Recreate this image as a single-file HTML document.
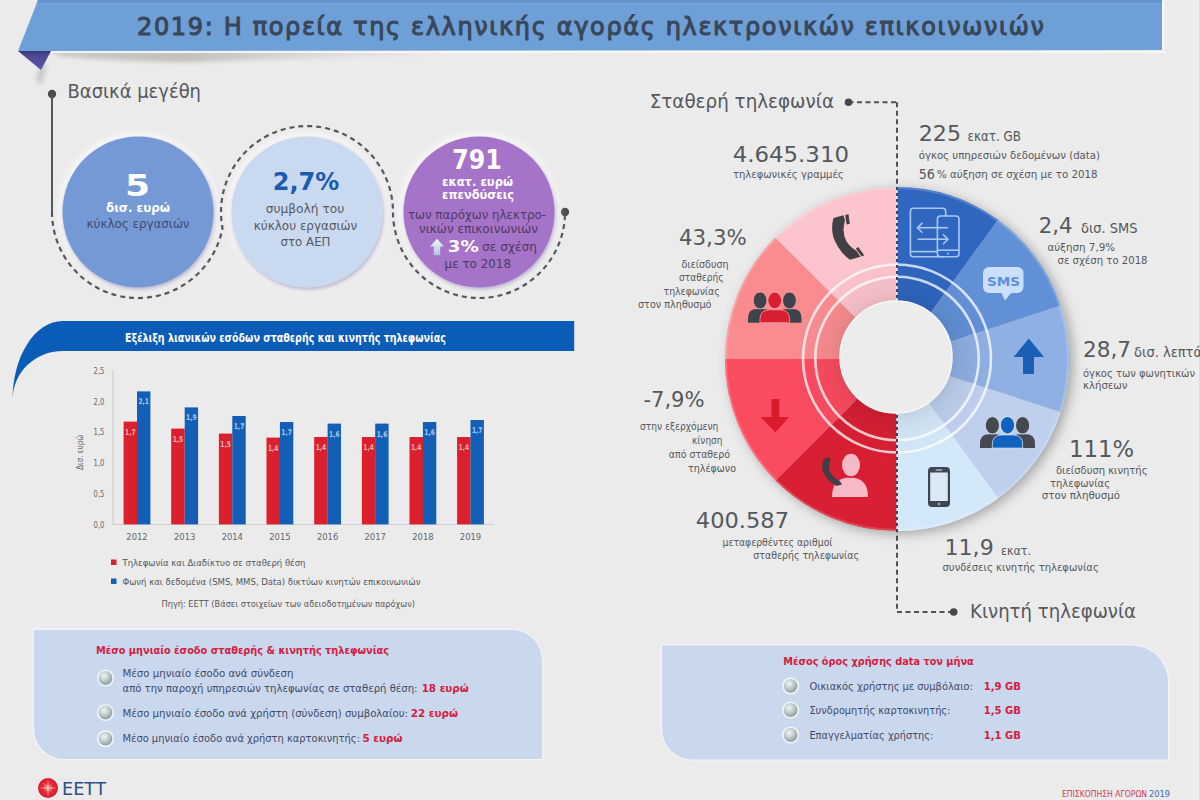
<!DOCTYPE html>
<html lang="el">
<head>
<meta charset="utf-8">
<title>2019: Η πορεία της ελληνικής αγοράς ηλεκτρονικών επικοινωνιών</title>
<style>
html,body{margin:0;padding:0;background:#ebebeb;}
body{width:1200px;height:800px;overflow:hidden;position:relative;}
svg{position:absolute;left:0;top:0;display:block;}
text{font-family:"DejaVu Sans","Liberation Sans",sans-serif;}
.g{fill:#56585c;}
</style>
</head>
<body>
<svg width="1200" height="800" viewBox="0 0 1200 800">
<defs>
  <filter id="glow" x="-20%" y="-20%" width="140%" height="140%"><feGaussianBlur stdDeviation="3"/></filter>
  <filter id="soft" x="-10%" y="-10%" width="120%" height="120%"><feGaussianBlur stdDeviation="0.7"/></filter>
  <filter id="sh" x="-20%" y="-20%" width="140%" height="140%">
    <feGaussianBlur in="SourceAlpha" stdDeviation="2.2"/>
    <feOffset dx="1.2" dy="1.8" result="b"/>
    <feFlood flood-color="#5a4f86" flood-opacity="0.45"/>
    <feComposite in2="b" operator="in"/>
    <feMerge><feMergeNode/><feMergeNode in="SourceGraphic"/></feMerge>
  </filter>
  <filter id="dsh" x="-20%" y="-20%" width="140%" height="140%">
    <feGaussianBlur in="SourceAlpha" stdDeviation="6"/>
    <feOffset dx="4" dy="3" result="b"/>
    <feFlood flood-color="#000" flood-opacity="0.3"/>
    <feComposite in2="b" operator="in"/>
    <feMerge><feMergeNode/><feMergeNode in="SourceGraphic"/></feMerge>
  </filter>
  <linearGradient id="bsh" x1="0" y1="0" x2="0" y2="1">
    <stop offset="0" stop-color="#b9b9b9"/>
    <stop offset="1" stop-color="#ebebeb" stop-opacity="0"/>
  </linearGradient>
  <radialGradient id="bul" cx="0.4" cy="0.35" r="0.6">
    <stop offset="0" stop-color="#f2f6f5"/>
    <stop offset="0.55" stop-color="#c0cfce"/>
    <stop offset="1" stop-color="#92a6a4"/>
  </radialGradient>
  <radialGradient id="logo" cx="0.5" cy="0.5" r="0.5">
    <stop offset="0" stop-color="#f7a5a5"/>
    <stop offset="0.45" stop-color="#e5303a"/>
    <stop offset="1" stop-color="#d8172a"/>
  </radialGradient>
  <linearGradient id="bsh2" x1="0" y1="0" x2="1" y2="0">
    <stop offset="0" stop-color="#b5b1ad" stop-opacity="0.6"/>
    <stop offset="0.35" stop-color="#b8b4b0" stop-opacity="0.8"/>
    <stop offset="1" stop-color="#c8c6c4" stop-opacity="0"/>
  </linearGradient>
  <filter id="b2" x="-20%" y="-50%" width="140%" height="200%"><feGaussianBlur stdDeviation="2"/></filter>
  <linearGradient id="fold" x1="0" y1="0" x2="0" y2="1">
    <stop offset="0" stop-color="#33387a"/>
    <stop offset="0.25" stop-color="#4a4b93"/>
    <stop offset="1" stop-color="#5856a6"/>
  </linearGradient>
  <radialGradient id="innersh" cx="0.5" cy="0.5" r="0.5">
    <stop offset="0.5" stop-color="#000" stop-opacity="0.1"/>
    <stop offset="0.62" stop-color="#000" stop-opacity="0.05"/>
    <stop offset="0.8" stop-color="#000" stop-opacity="0.015"/>
    <stop offset="1" stop-color="#000" stop-opacity="0"/>
  </radialGradient>
  <linearGradient id="arr" x1="0" y1="0" x2="0" y2="1">
    <stop offset="0" stop-color="#f4f6fb"/>
    <stop offset="1" stop-color="#b4c2e0"/>
  </linearGradient>
</defs>

<rect x="1192" y="0" width="7" height="800" fill="#eeeeee"/>
<rect x="1199" y="0" width="1" height="800" fill="#dedede"/>
<!-- ============ HEADER BANNER ============ -->
<path d="M48,50 L440,50 L440,56 Q300,58 200,62 Q120,62 60,56 Z" fill="url(#bsh2)" filter="url(#b2)"/>
<path d="M40,66 L47,64 L42,84 L36,80 Z" fill="#b8b8bc" opacity="0.7" filter="url(#b2)"/>
<polygon points="38,0 1162,0 1162,50 18,51" fill="#6e9fd7"/>
<polygon points="38,0 1162,0 1162,3 36.8,3" fill="#6593cc"/>
<line x1="36.5" y1="3.9" x2="1162" y2="3.9" stroke="#7eaae0" stroke-width="0.8"/>
<polyline points="48,52 1163.5,52 1163.5,0" fill="none" stroke="#f7fafd" stroke-opacity="0.85" stroke-width="2"/>
<polygon points="18,51 51,51 41,70" fill="url(#fold)"/>
<text x="137" y="34.5" font-size="24" stroke="#394759" stroke-width="1.05" fill="#394759" textLength="907" lengthAdjust="spacing">2019: Η πορεία της ελληνικής αγοράς ηλεκτρονικών επικοινωνιών</text>


<!-- ============ BASIKA MEGETHI ============ -->
<text x="67.5" y="97.5" font-size="19.5" fill="#55585d" textLength="133.5" lengthAdjust="spacingAndGlyphs">Βασικά μεγέθη</text>
<circle cx="52" cy="94" r="4.2" fill="#4a4c50"/>
<line x1="52" y1="94" x2="52" y2="212" stroke="#55575b" stroke-width="2"/>
<circle cx="565" cy="212" r="4.2" fill="#4a4c50"/>

<g filter="url(#glow)"><circle cx="138" cy="212" r="79" fill="#fbfbfd"/><circle cx="307" cy="212" r="79" fill="#fbfbfd"/><circle cx="479" cy="212" r="79" fill="#fbfbfd"/></g>
<path d="M52,212 A86,86 0 0 0 222.5,228.05 A86,86 0 1 1 393,212 A86,86 0 0 0 479,298 A86,86 0 0 0 565,212" fill="none" stroke="#55575b" stroke-width="2.2" stroke-dasharray="5,4"/>
<circle cx="138" cy="212" r="75.5" fill="#7599d5" filter="url(#sh)"/>
<circle cx="307" cy="212" r="75.5" fill="#c9d9f0" filter="url(#sh)"/>
<circle cx="479" cy="212" r="75.5" fill="#a573c8" filter="url(#sh)"/>

<text transform="translate(137.4,196.3) scale(1.22,1)" x="0" y="0" font-size="29.5" font-weight="bold" fill="#fff" text-anchor="middle">5</text>
<text x="138" y="211.5" font-size="12.5" font-weight="bold" fill="#fff" text-anchor="middle" textLength="64" lengthAdjust="spacingAndGlyphs">δισ. ευρώ</text>
<text x="138" y="228" font-size="12" fill="#3c4d72" text-anchor="middle" textLength="103" lengthAdjust="spacingAndGlyphs">κύκλος εργασιών</text>

<text x="306" y="189.5" font-size="25" font-weight="bold" fill="#1c5cae" text-anchor="middle" textLength="66.5" lengthAdjust="spacingAndGlyphs">2,7%</text>
<text x="305" y="213" font-size="12.5" fill="#575a60" text-anchor="middle" textLength="78.5" lengthAdjust="spacingAndGlyphs">συμβολή του</text>
<text x="305.5" y="229.5" font-size="12.5" fill="#575a60" text-anchor="middle" textLength="103.5" lengthAdjust="spacingAndGlyphs">κύκλου εργασιών</text>
<text x="305.5" y="246" font-size="12.5" fill="#575a60" text-anchor="middle" textLength="50" lengthAdjust="spacingAndGlyphs">στο ΑΕΠ</text>

<text x="477" y="169.3" font-size="26" font-weight="bold" fill="#fff" text-anchor="middle" textLength="49.6" lengthAdjust="spacingAndGlyphs">791</text>
<text x="477.5" y="185.5" font-size="12.5" font-weight="bold" fill="#fff" text-anchor="middle" textLength="71" lengthAdjust="spacingAndGlyphs">εκατ. ευρώ</text>
<text x="478" y="199" font-size="12.5" font-weight="bold" fill="#fff" text-anchor="middle" textLength="72" lengthAdjust="spacingAndGlyphs">επενδύσεις</text>
<text x="477" y="219" font-size="11.5" fill="#4b3c63" text-anchor="middle" textLength="138" lengthAdjust="spacingAndGlyphs">των παρόχων ηλεκτρο-</text>
<text x="478.5" y="232.8" font-size="11.5" fill="#4b3c63" text-anchor="middle" textLength="119" lengthAdjust="spacingAndGlyphs">νικών επικοινωνιών</text>
<path d="M437,238.8 L444,246.5 L440.2,246.5 L440.2,255.2 L433.8,255.2 L433.8,246.5 L430,246.5 Z" fill="url(#arr)"/>
<text x="447.7" y="252" font-size="16.5" font-weight="bold" fill="#fff" textLength="31" lengthAdjust="spacingAndGlyphs">3%</text>
<text x="482" y="250.5" font-size="11.5" fill="#4b3c63" textLength="55" lengthAdjust="spacingAndGlyphs">σε σχέση</text>
<text x="477.8" y="267.7" font-size="11.5" fill="#4b3c63" text-anchor="middle" textLength="66.5" lengthAdjust="spacingAndGlyphs">με το 2018</text>

<!-- ============ CHART ============ -->
<path d="M574.2,321 L62.5,321 A50,79 0 0 0 12.5,400 A50,49 0 0 1 62.5,351 L574.2,351 Z" fill="#0b5cb6"/>
<text x="125" y="342" font-size="12" font-weight="bold" fill="#ffffff" textLength="321" lengthAdjust="spacingAndGlyphs">Εξέλιξη λιανικών εσόδων σταθερής και κινητής τηλεφωνίας</text>
<line x1="113" y1="370" x2="113" y2="524.5" stroke="#cfcfcf" stroke-width="1.2"/>
<line x1="113" y1="524.5" x2="494" y2="524.5" stroke="#cfcfcf" stroke-width="1.2"/>
<text x="104.4" y="374.3" font-size="8.6" fill="#66686c" text-anchor="end" textLength="10.8" lengthAdjust="spacingAndGlyphs">2,5</text><text x="104.4" y="404.6" font-size="8.6" fill="#66686c" text-anchor="end" textLength="10.8" lengthAdjust="spacingAndGlyphs">2,0</text><text x="104.4" y="435.3" font-size="8.6" fill="#66686c" text-anchor="end" textLength="10.8" lengthAdjust="spacingAndGlyphs">1,5</text><text x="104.4" y="466.3" font-size="8.6" fill="#66686c" text-anchor="end" textLength="10.8" lengthAdjust="spacingAndGlyphs">1,0</text><text x="104.4" y="496.90000000000003" font-size="8.6" fill="#66686c" text-anchor="end" textLength="10.8" lengthAdjust="spacingAndGlyphs">0,5</text><text x="104.4" y="527.6999999999999" font-size="8.6" fill="#66686c" text-anchor="end" textLength="10.8" lengthAdjust="spacingAndGlyphs">0,0</text>
<text transform="translate(83,452.3) rotate(-90)" font-size="8.3" fill="#66686c" text-anchor="middle" textLength="35.5" lengthAdjust="spacingAndGlyphs">Δισ. ευρώ</text>
<rect x="123.6" y="421.6" width="13.5" height="102.8" fill="#dc1f2d"/><rect x="137.0" y="391.4" width="13.4" height="133.0" fill="#135fb6"/><text x="130.3" y="434.6" font-size="7.8" font-weight="bold" fill="#f1b3b8" text-anchor="middle" textLength="10.5" lengthAdjust="spacingAndGlyphs">1,7</text><text x="143.7" y="404.4" font-size="7.8" font-weight="bold" fill="#aecaef" text-anchor="middle" textLength="10.5" lengthAdjust="spacingAndGlyphs">2,1</text><text x="137.0" y="539.5" font-size="8.4" fill="#626468" text-anchor="middle">2012</text><rect x="171.2" y="428.6" width="13.5" height="95.8" fill="#dc1f2d"/><rect x="184.7" y="407.4" width="13.4" height="117.0" fill="#135fb6"/><text x="177.9" y="441.6" font-size="7.8" font-weight="bold" fill="#f1b3b8" text-anchor="middle" textLength="10.5" lengthAdjust="spacingAndGlyphs">1,5</text><text x="191.3" y="420.4" font-size="7.8" font-weight="bold" fill="#aecaef" text-anchor="middle" textLength="10.5" lengthAdjust="spacingAndGlyphs">1,9</text><text x="184.7" y="539.5" font-size="8.4" fill="#626468" text-anchor="middle">2013</text><rect x="218.9" y="433.6" width="13.5" height="90.8" fill="#dc1f2d"/><rect x="232.3" y="416" width="13.4" height="108.4" fill="#135fb6"/><text x="225.6" y="446.6" font-size="7.8" font-weight="bold" fill="#f1b3b8" text-anchor="middle" textLength="10.5" lengthAdjust="spacingAndGlyphs">1,5</text><text x="239.0" y="429.0" font-size="7.8" font-weight="bold" fill="#aecaef" text-anchor="middle" textLength="10.5" lengthAdjust="spacingAndGlyphs">1,7</text><text x="232.3" y="539.5" font-size="8.4" fill="#626468" text-anchor="middle">2014</text><rect x="266.5" y="437.6" width="13.5" height="86.8" fill="#dc1f2d"/><rect x="279.9" y="422" width="13.4" height="102.4" fill="#135fb6"/><text x="273.2" y="450.6" font-size="7.8" font-weight="bold" fill="#f1b3b8" text-anchor="middle" textLength="10.5" lengthAdjust="spacingAndGlyphs">1,4</text><text x="286.6" y="435.0" font-size="7.8" font-weight="bold" fill="#aecaef" text-anchor="middle" textLength="10.5" lengthAdjust="spacingAndGlyphs">1,7</text><text x="279.9" y="539.5" font-size="8.4" fill="#626468" text-anchor="middle">2015</text><rect x="314.2" y="437" width="13.5" height="87.4" fill="#dc1f2d"/><rect x="327.6" y="423.6" width="13.4" height="100.8" fill="#135fb6"/><text x="320.9" y="450.0" font-size="7.8" font-weight="bold" fill="#f1b3b8" text-anchor="middle" textLength="10.5" lengthAdjust="spacingAndGlyphs">1,4</text><text x="334.3" y="436.6" font-size="7.8" font-weight="bold" fill="#aecaef" text-anchor="middle" textLength="10.5" lengthAdjust="spacingAndGlyphs">1,6</text><text x="327.6" y="539.5" font-size="8.4" fill="#626468" text-anchor="middle">2016</text><rect x="361.9" y="437" width="13.5" height="87.4" fill="#dc1f2d"/><rect x="375.2" y="423.6" width="13.4" height="100.8" fill="#135fb6"/><text x="368.6" y="450.0" font-size="7.8" font-weight="bold" fill="#f1b3b8" text-anchor="middle" textLength="10.5" lengthAdjust="spacingAndGlyphs">1,4</text><text x="382.0" y="436.6" font-size="7.8" font-weight="bold" fill="#aecaef" text-anchor="middle" textLength="10.5" lengthAdjust="spacingAndGlyphs">1,6</text><text x="375.2" y="539.5" font-size="8.4" fill="#626468" text-anchor="middle">2017</text><rect x="409.5" y="437" width="13.5" height="87.4" fill="#dc1f2d"/><rect x="422.9" y="422" width="13.4" height="102.4" fill="#135fb6"/><text x="416.2" y="450.0" font-size="7.8" font-weight="bold" fill="#f1b3b8" text-anchor="middle" textLength="10.5" lengthAdjust="spacingAndGlyphs">1,4</text><text x="429.6" y="435.0" font-size="7.8" font-weight="bold" fill="#aecaef" text-anchor="middle" textLength="10.5" lengthAdjust="spacingAndGlyphs">1,6</text><text x="422.9" y="539.5" font-size="8.4" fill="#626468" text-anchor="middle">2018</text><rect x="457.1" y="437" width="13.5" height="87.4" fill="#dc1f2d"/><rect x="470.5" y="420" width="13.4" height="104.4" fill="#135fb6"/><text x="463.8" y="450.0" font-size="7.8" font-weight="bold" fill="#f1b3b8" text-anchor="middle" textLength="10.5" lengthAdjust="spacingAndGlyphs">1,4</text><text x="477.2" y="433.0" font-size="7.8" font-weight="bold" fill="#aecaef" text-anchor="middle" textLength="10.5" lengthAdjust="spacingAndGlyphs">1,7</text><text x="470.5" y="539.5" font-size="8.4" fill="#626468" text-anchor="middle">2019</text>
<rect x="111" y="559.5" width="5.5" height="5.5" fill="#dc1f2d"/>
<text x="122.5" y="565.5" font-size="9.5" fill="#55585c" textLength="183" lengthAdjust="spacingAndGlyphs">Τηλεφωνία και Διαδίκτυο σε σταθερή θέση</text>
<rect x="111" y="578.5" width="5.5" height="5.5" fill="#135fb6"/>
<text x="122.5" y="584.5" font-size="9.5" fill="#55585c" textLength="298" lengthAdjust="spacingAndGlyphs">Φωνή και δεδομένα (SMS, MMS, Data) δικτύων κινητών επικοινωνιών</text>
<text x="161.5" y="607" font-size="9.3" fill="#55585c" textLength="253.5" lengthAdjust="spacingAndGlyphs">Πηγή: ΕΕΤΤ (Βάσει στοιχείων των αδειοδοτημένων παρόχων)</text>

<!-- ============ BOTTOM BOXES ============ -->
<path d="M34,630 L512,630 A30,30 0 0 1 542,660 L542,759 L64,759 A30,30 0 0 1 34,729 Z" fill="#cad8ee" stroke="#f2f4f8" stroke-width="2.5" paint-order="stroke"/>
<text x="96" y="654" font-size="11" font-weight="bold" fill="#d4203c" textLength="293" lengthAdjust="spacingAndGlyphs">Μέσο μηνιαίο έσοδο σταθερής &amp; κινητής τηλεφωνίας</text>
<circle cx="105.5" cy="678" r="8.6" fill="#f1f5f7" filter="url(#soft)"/><circle cx="105.5" cy="678" r="6.9" fill="url(#bul)"/>
<circle cx="105.5" cy="712.5" r="8.6" fill="#f1f5f7" filter="url(#soft)"/><circle cx="105.5" cy="712.5" r="6.9" fill="url(#bul)"/>
<circle cx="105.5" cy="738.7" r="8.6" fill="#f1f5f7" filter="url(#soft)"/><circle cx="105.5" cy="738.7" r="6.9" fill="url(#bul)"/>
<text x="122.5" y="677" font-size="11" fill="#3e4a66" textLength="171" lengthAdjust="spacingAndGlyphs">Μέσο μηνιαίο έσοδο ανά σύνδεση</text>
<text x="122.5" y="692" font-size="11" fill="#3e4a66" textLength="295" lengthAdjust="spacingAndGlyphs">από την παροχή υπηρεσιών τηλεφωνίας σε σταθερή θέση:</text>
<text x="421.7" y="692" font-size="11" font-weight="bold" fill="#d4203c" textLength="47" lengthAdjust="spacingAndGlyphs">18 ευρώ</text>
<text x="122.5" y="716.5" font-size="11" fill="#3e4a66" textLength="285.5" lengthAdjust="spacingAndGlyphs">Μέσο μηνιαίο έσοδο ανά χρήστη (σύνδεση) συμβολαίου:</text>
<text x="410.7" y="716.5" font-size="11" font-weight="bold" fill="#d4203c" textLength="47.3" lengthAdjust="spacingAndGlyphs">22 ευρώ</text>
<text x="122.5" y="742" font-size="11" fill="#3e4a66" textLength="237.5" lengthAdjust="spacingAndGlyphs">Μέσο μηνιαίο έσοδο ανά χρήστη καρτοκινητής:</text>
<text x="362.5" y="742" font-size="11" font-weight="bold" fill="#d4203c" textLength="40" lengthAdjust="spacingAndGlyphs">5 ευρώ</text>

<path d="M662,645.5 L1132,645.5 A36,36 0 0 1 1168,681.5 L1168,759.5 L692,759.5 A30,30 0 0 1 662,729.5 Z" fill="#cad8ee" stroke="#f2f4f8" stroke-width="2.5" paint-order="stroke"/>
<text x="783.3" y="665" font-size="11" font-weight="bold" fill="#d4203c" textLength="190.5" lengthAdjust="spacingAndGlyphs">Μέσος όρος χρήσης data τον μήνα</text>
<circle cx="790.6" cy="685.8" r="8.6" fill="#f1f5f7" filter="url(#soft)"/><circle cx="790.6" cy="685.8" r="6.9" fill="url(#bul)"/>
<circle cx="790.6" cy="710" r="8.6" fill="#f1f5f7" filter="url(#soft)"/><circle cx="790.6" cy="710" r="6.9" fill="url(#bul)"/>
<circle cx="790.6" cy="735" r="8.6" fill="#f1f5f7" filter="url(#soft)"/><circle cx="790.6" cy="735" r="6.9" fill="url(#bul)"/>
<text x="809.4" y="690" font-size="11" fill="#3e4a66" textLength="163.6" lengthAdjust="spacingAndGlyphs">Οικιακός χρήστης με συμβόλαιο:</text>
<text x="809.4" y="714.3" font-size="11" fill="#3e4a66" textLength="141" lengthAdjust="spacingAndGlyphs">Συνδρομητής καρτοκινητής:</text>
<text x="809.4" y="739.2" font-size="11" fill="#3e4a66" textLength="124" lengthAdjust="spacingAndGlyphs">Επαγγελματίας χρήστης:</text>
<text x="983.7" y="690" font-size="11" font-weight="bold" fill="#d4203c" textLength="37.3" lengthAdjust="spacingAndGlyphs">1,9 GB</text>
<text x="983.7" y="714.3" font-size="11" font-weight="bold" fill="#d4203c" textLength="37.3" lengthAdjust="spacingAndGlyphs">1,5 GB</text>
<text x="983.7" y="739.2" font-size="11" font-weight="bold" fill="#d4203c" textLength="37.3" lengthAdjust="spacingAndGlyphs">1,1 GB</text>

<!-- footer -->
<text x="1062" y="797" font-size="8" fill="#d63a4a" textLength="85" lengthAdjust="spacingAndGlyphs">ΕΠΙΣΚΟΠΗΣΗ ΑΓΟΡΩΝ</text>
<text x="1149" y="797" font-size="8" fill="#3a6fb5" textLength="21" lengthAdjust="spacingAndGlyphs">2019</text>
<circle cx="48" cy="788" r="10" fill="url(#logo)"/>
<path d="M48,779 L49,787 L57,788 L49,789 L48,797 L47,789 L39,788 L47,787 Z M42,782 L48.5,787.5 L54,782 L48.5,788.5 L54,794 L47.5,788.5 L42,794 L47.5,788.5 Z" fill="#f8c0c0" opacity="0.7"/>
<text x="62" y="795" font-size="17" fill="#28518c" textLength="44" lengthAdjust="spacingAndGlyphs">ΕΕΤΤ</text>

<!-- ============ DONUT ============ -->
<line x1="897" y1="102.3" x2="897" y2="612" stroke="#4f5155" stroke-width="2" stroke-dasharray="5,3.5"/>
<circle cx="897" cy="359" r="172" fill="#ccc" filter="url(#dsh)"/>
<g><path d="M897,359 L897.00,187.00 A172,172 0 0 1 998.10,219.85 Z" fill="#2f66bf"/><path d="M897,359 L998.10,219.85 A172,172 0 0 1 1060.58,305.85 Z" fill="#6290d7"/><path d="M897,359 L1060.58,305.85 A172,172 0 0 1 1060.58,412.15 Z" fill="#8fb0e2"/><path d="M897,359 L1060.58,412.15 A172,172 0 0 1 998.10,498.15 Z" fill="#bed0ee"/><path d="M897,359 L998.10,498.15 A172,172 0 0 1 897.00,531.00 Z" fill="#d3e8f9"/><path d="M897,359 L897.00,531.00 A172,172 0 0 1 775.38,480.62 Z" fill="#d81f33"/><path d="M897,359 L775.38,480.62 A172,172 0 0 1 725.00,359.00 Z" fill="#fa4b5f"/><path d="M897,359 L725.00,359.00 A172,172 0 0 1 775.38,237.38 Z" fill="#fa8c90"/><path d="M897,359 L775.38,237.38 A172,172 0 0 1 897.00,187.00 Z" fill="#fcc4cc"/></g>
<circle cx="897" cy="359" r="171" fill="none" stroke="#fff" stroke-opacity="0.18" stroke-width="2"/>
<circle cx="896.5" cy="358" r="105" fill="url(#innersh)"/>
<circle cx="897" cy="358.5" r="94" fill="none" stroke="#fff" stroke-opacity="0.75" stroke-width="2.6"/>
<circle cx="897" cy="358.5" r="81.7" fill="none" stroke="#fff" stroke-opacity="0.75" stroke-width="2.6"/>
<line x1="897" y1="187" x2="897" y2="531" stroke="#fff" stroke-opacity="0.6" stroke-width="2"/>
<line x1="897" y1="187" x2="897" y2="531" stroke="#3d4466" stroke-width="2" stroke-dasharray="3,3"/>
<circle cx="896" cy="357" r="56" fill="#ececec" stroke="#f6f6f6" stroke-width="1.5"/>
<line x1="848.5" y1="102.3" x2="897" y2="102.3" stroke="#4f5155" stroke-width="2" stroke-dasharray="5,3.5"/>
<line x1="897" y1="612" x2="953.7" y2="612" stroke="#4f5155" stroke-width="2" stroke-dasharray="5,3.5"/>
<circle cx="848.5" cy="102.3" r="3.8" fill="#45474b"/>
<circle cx="953.7" cy="612" r="3.8" fill="#45474b"/>

<!-- donut icons -->
<!-- handset -->
<path d="M833.5,218 L843.5,215.3 L845,220.5 Q841.5,232 846.5,241.5 Q851,248 856.5,250.8 L860.5,256.8 L850,259.8 Q838.5,251.5 833.3,237 Q830.8,227 833.5,218 Z" fill="#3f3f45"/>
<path d="M845.2,215 L848.5,214.3 L849.8,223.8 L846.6,224.4 Z" fill="#3f3f45"/>
<path d="M855.8,248.4 L858.2,247 L864.2,255.2 L861.8,256.6 Z" fill="#3f3f45"/>
<g transform="translate(748,292) scale(0.973)">
<path d="M0,31.5 L0,27 Q0,17.6 9,17.6 L15.6,17.6 Q24.6,17.6 24.6,27 L24.6,31.5 Z" fill="#3f434b"/>
<path d="M30.4,31.5 L30.4,27 Q30.4,17.6 39.4,17.6 L46,17.6 Q55,17.6 55,27 L55,31.5 Z" fill="#3f434b"/>
<ellipse cx="12.4" cy="8.7" rx="7.1" ry="8.7" fill="#3f434b" stroke="#f6a0a4" stroke-width="0.9"/>
<ellipse cx="42.6" cy="8.7" rx="7.1" ry="8.7" fill="#3f434b" stroke="#f6a0a4" stroke-width="0.9"/>
<path d="M12.3,31.5 L12.3,28 Q12.3,18.3 22,18.3 L33,18.3 Q42.7,18.3 42.7,28 L42.7,31.5 Z" fill="#d81e30" stroke="#f6a0a4" stroke-width="0.8"/>
<ellipse cx="27.5" cy="8.6" rx="7.3" ry="8.8" fill="#d81e30" stroke="#f6a0a4" stroke-width="1.2"/>
</g>
<g transform="translate(980,416.6) scale(1)">
<path d="M0,31.5 L0,27 Q0,17.6 9,17.6 L15.6,17.6 Q24.6,17.6 24.6,27 L24.6,31.5 Z" fill="#45484e"/>
<path d="M30.4,31.5 L30.4,27 Q30.4,17.6 39.4,17.6 L46,17.6 Q55,17.6 55,27 L55,31.5 Z" fill="#45484e"/>
<ellipse cx="12.4" cy="8.7" rx="7.1" ry="8.7" fill="#45484e" stroke="#cfe0f5" stroke-width="0.9"/>
<ellipse cx="42.6" cy="8.7" rx="7.1" ry="8.7" fill="#45484e" stroke="#cfe0f5" stroke-width="0.9"/>
<path d="M12.3,31.5 L12.3,28 Q12.3,18.3 22,18.3 L33,18.3 Q42.7,18.3 42.7,28 L42.7,31.5 Z" fill="#0f62be" stroke="#cfe0f5" stroke-width="0.8"/>
<ellipse cx="27.5" cy="8.6" rx="7.3" ry="8.8" fill="#0f62be" stroke="#cfe0f5" stroke-width="1.2"/>
</g>
<!-- down arrow -->
<path d="M771.5,399 L779.4,399 L779.4,417 L789,417 L775.4,432.5 L760.5,417 L771.5,417 Z" fill="#dc1a2d"/>
<!-- person + phone -->
<path d="M832,497 C832,484 838,477.5 850,477.5 C862,477.5 868,484 868,497 Z" fill="#f6b9c6"/>
<ellipse cx="851" cy="465" rx="9.8" ry="12" fill="#f6b9c6" stroke="#d81f33" stroke-width="1.5"/>
<path d="M824,459 L829.5,457 L830.5,460 Q826.5,468 832,475 Q836,479.5 839.5,480.5 L842,484.5 L836.5,486 Q826,480 822.5,470 Q821.5,463 824,459 Z" fill="#3f3f45"/>
<!-- tablet/phone sync -->
<g fill="none" stroke="#a8c8f2" stroke-width="1.6">
<rect x="910.4" y="208.3" width="35.3" height="48.4" rx="3"/>
<line x1="910.4" y1="251.6" x2="937" y2="251.6"/>
</g>
<rect x="937.4" y="216" width="21.6" height="40.7" rx="3" fill="#2f66bf" stroke="#a8c8f2" stroke-width="1.6"/>
<line x1="937.4" y1="250.2" x2="959" y2="250.2" stroke="#a8c8f2" stroke-width="1.6"/>
<circle cx="948.2" cy="253.6" r="1" fill="#a8c8f2"/>
<g fill="none" stroke="#a8c8f2" stroke-width="1.6">
<line x1="917.5" y1="227.7" x2="948" y2="227.7"/>
<polyline points="922.5,222.7 917.5,227.7 922.5,232.7"/>
<line x1="917.5" y1="239.2" x2="948" y2="239.2"/>
<polyline points="943,234.2 948,239.2 943,244.2"/>
</g>
<!-- SMS bubble -->
<rect x="983" y="267" width="40.5" height="26" rx="6" fill="#c9dffa"/>
<path d="M1001,292 L1012,292 L1005,300.5 Z" fill="#c9dffa"/>
<text x="1003.5" y="285.5" font-size="13" font-weight="bold" fill="#5d8fd5" text-anchor="middle" font-family="Liberation Sans, sans-serif" textLength="33" lengthAdjust="spacingAndGlyphs">SMS</text>
<!-- up arrow -->
<path d="M1028.8,338.5 L1044,357 L1034,357 L1034,374 L1023,374 L1023,357 L1013.6,357 Z" fill="#1a5fb5"/>
<!-- mobile phone -->
<rect x="928" y="467" width="22" height="40" rx="4" fill="#3e4652"/>
<rect x="930.2" y="472.5" width="17.6" height="28.5" fill="#dbe9f6"/>
<rect x="935.5" y="469" width="7" height="2" rx="1" fill="#8c98a6"/>
<circle cx="939" cy="504" r="1.3" fill="#a0aab5"/>

<text x="649.7" y="108" font-size="19.5" fill="#55585d" textLength="184.3" lengthAdjust="spacingAndGlyphs">Σταθερή τηλεφωνία</text>
<text x="970" y="617.5" font-size="19.5" fill="#55585d" textLength="166" lengthAdjust="spacingAndGlyphs">Κινητή τηλεφωνία</text>

<text x="732.7" y="162" font-size="22" fill="#55585d" textLength="116.3" lengthAdjust="spacingAndGlyphs">4.645.310</text>
<text x="733" y="177.5" font-size="10" fill="#55585d" textLength="110.7" lengthAdjust="spacingAndGlyphs">τηλεφωνικές γραμμές</text>

<text x="679" y="244.5" font-size="21" fill="#55585d" textLength="67.7" lengthAdjust="spacingAndGlyphs">43,3%</text>
<text x="681.5" y="267.5" font-size="10" fill="#55585d" textLength="47.2" lengthAdjust="spacingAndGlyphs">διείσδυση</text>
<text x="679" y="281" font-size="10" fill="#55585d" textLength="44.5" lengthAdjust="spacingAndGlyphs">σταθερής</text>
<text x="663.5" y="294.5" font-size="10" fill="#55585d" textLength="56.2" lengthAdjust="spacingAndGlyphs">τηλεφωνίας</text>
<text x="638" y="308" font-size="10" fill="#55585d" textLength="73.5" lengthAdjust="spacingAndGlyphs">στον πληθυσμό</text>

<text x="643.4" y="406.8" font-size="21" fill="#55585d" textLength="61.2" lengthAdjust="spacingAndGlyphs">-7,9%</text>
<text x="640" y="430.3" font-size="10" fill="#55585d" textLength="78.3" lengthAdjust="spacingAndGlyphs">στην εξερχόμενη</text>
<text x="692" y="444" font-size="10" fill="#55585d" textLength="30.5" lengthAdjust="spacingAndGlyphs">κίνηση</text>
<text x="668.8" y="457.8" font-size="10" fill="#55585d" textLength="61.2" lengthAdjust="spacingAndGlyphs">από σταθερό</text>
<text x="688" y="471.5" font-size="10" fill="#55585d" textLength="48" lengthAdjust="spacingAndGlyphs">τηλέφωνο</text>

<text x="695.8" y="528" font-size="22" fill="#55585d" textLength="93.2" lengthAdjust="spacingAndGlyphs">400.587</text>
<text x="722.5" y="546" font-size="10" fill="#55585d" textLength="110" lengthAdjust="spacingAndGlyphs">μεταφερθέντες αριθμοί</text>
<text x="753.3" y="558.5" font-size="10" fill="#55585d" textLength="105.7" lengthAdjust="spacingAndGlyphs">σταθερής τηλεφωνίας</text>

<text x="918.7" y="141" font-size="21" fill="#55585d" textLength="42.3" lengthAdjust="spacingAndGlyphs">225</text>
<text x="967.5" y="141" font-size="14" fill="#55585d" textLength="53.5" lengthAdjust="spacingAndGlyphs">εκατ. GB</text>
<text x="918.7" y="158.5" font-size="10.5" fill="#55585d" textLength="181.3" lengthAdjust="spacingAndGlyphs">όγκος υπηρεσιών δεδομένων (data)</text>
<text x="918.7" y="178.5" font-size="14" fill="#55585d" textLength="16.3" lengthAdjust="spacingAndGlyphs">56</text>
<text x="937" y="178" font-size="10.5" fill="#55585d" textLength="160.5" lengthAdjust="spacingAndGlyphs">% αύξηση σε σχέση με το 2018</text>

<text x="1038.7" y="232.5" font-size="22" fill="#55585d" textLength="33.8" lengthAdjust="spacingAndGlyphs">2,4</text>
<text x="1081" y="232.5" font-size="14" fill="#55585d" textLength="56.5" lengthAdjust="spacingAndGlyphs">δισ. SMS</text>
<text x="1047.5" y="251" font-size="10.5" fill="#55585d" textLength="67.5" lengthAdjust="spacingAndGlyphs">αύξηση 7,9%</text>
<text x="1057.5" y="263.5" font-size="10.5" fill="#55585d" textLength="90" lengthAdjust="spacingAndGlyphs">σε σχέση το 2018</text>

<text x="1083" y="357" font-size="22" fill="#55585d" textLength="48" lengthAdjust="spacingAndGlyphs">28,7</text>
<text x="1134" y="357" font-size="14" fill="#55585d" textLength="68" lengthAdjust="spacingAndGlyphs">δισ. λεπτά</text>
<text x="1083" y="377" font-size="10.5" fill="#55585d" textLength="112" lengthAdjust="spacingAndGlyphs">όγκος των φωνητικών</text>
<text x="1083" y="389" font-size="10.5" fill="#55585d" textLength="44.5" lengthAdjust="spacingAndGlyphs">κλήσεων</text>

<text x="1069" y="457" font-size="23" fill="#55585d" textLength="65" lengthAdjust="spacingAndGlyphs">111%</text>
<text x="1056" y="473.5" font-size="10.5" fill="#55585d" textLength="91.5" lengthAdjust="spacingAndGlyphs">διείσδυση κινητής</text>
<text x="1050" y="486.5" font-size="10.5" fill="#55585d" textLength="60" lengthAdjust="spacingAndGlyphs">τηλεφωνίας</text>
<text x="1041.7" y="499" font-size="10.5" fill="#55585d" textLength="78.3" lengthAdjust="spacingAndGlyphs">στον πληθυσμό</text>

<text x="944.5" y="554.5" font-size="22" fill="#55585d" textLength="49.2" lengthAdjust="spacingAndGlyphs">11,9</text>
<text x="1001" y="554.5" font-size="13" fill="#55585d" textLength="30" lengthAdjust="spacingAndGlyphs">εκατ.</text>
<text x="942.5" y="571" font-size="10.5" fill="#55585d" textLength="156.3" lengthAdjust="spacingAndGlyphs">συνδέσεις κινητής τηλεφωνίας</text>

</svg>
</body>
</html>
